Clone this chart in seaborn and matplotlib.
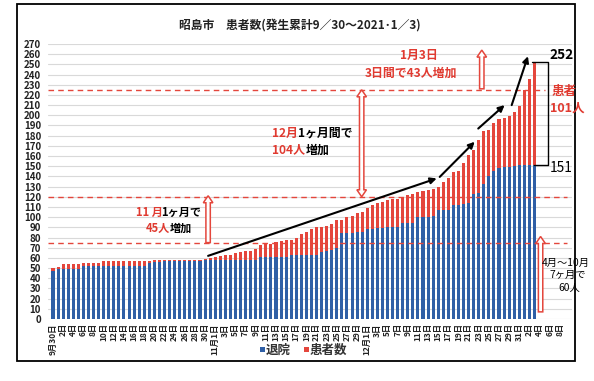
import numpy as np
import pandas as pd
import matplotlib
matplotlib.use("Agg")
import matplotlib.pyplot as plt
import seaborn as sns
from matplotlib.patches import Rectangle, Polygon

# ---------------- data ----------------
oct_total = [50, 51, 54, 54, 54, 54, 55, 55, 55, 55, 57, 57, 57, 57, 57, 57, 57, 57, 57,
             57, 58, 58, 58, 58, 58, 58, 58, 58, 58, 58, 59, 60]
nov_total = [61, 62, 63, 63, 65, 66, 67, 67, 69, 73, 74, 74, 76, 77, 78, 78, 80, 83, 85, 88,
             90, 90, 91, 93, 97, 97, 100, 101, 104, 105]
dec_total = [109, 112, 114, 115, 117, 118, 118, 120, 122, 123, 125, 126, 127, 128, 130, 135, 138,
             144, 145, 153, 161, 166, 176, 185, 186, 192, 196, 197, 199, 203, 209]
jan_total = [225, 236, 252]

oct_disch = [47, 49, 49, 49, 49, 49, 52, 52, 52, 52, 52, 52, 52, 52, 52, 52, 52, 52, 52,
             55, 56, 56, 57, 57, 57, 57, 57, 57, 57, 57, 58, 58]
nov_disch = [58, 58, 58, 58, 58, 58, 58, 58, 58, 61, 61, 61, 61, 61, 61, 63, 63, 63, 63, 63,
             63, 66, 67, 68, 70, 84, 84, 84, 85, 85]
dec_disch = [88, 88, 89, 89, 90, 90, 90, 94, 94, 94, 100, 100, 100, 101, 107, 107, 107,
             112, 112, 113, 114, 123, 124, 133, 140, 145, 148, 149, 149, 150, 151]
jan_disch = [151, 151, 151]

totals = oct_total + nov_total + dec_total + jan_total
discharged = oct_disch + nov_disch + dec_disch + jan_disch

all_dates = pd.date_range("2020-09-30", "2021-01-10")
categories = [d.strftime("%Y-%m-%d") for d in all_dates]
df = pd.DataFrame({"date": categories[:len(totals)], "total": totals, "disch": discharged})

def tick_label(d, i):
    if i == 0 or d.day == 1 and d.month in (11, 12):
        return f"{d.month}月{d.day}日"
    return f"{d.day}日"

tick_pos = list(range(0, len(categories) - 1, 2))
tick_labels = [tick_label(all_dates[i], i) for i in tick_pos]

RED = "#e4463c"
BLUE = "#2f5fa6"
TXT_RED = "#e03a30"

# ---------------- figure ----------------
sns.set_theme(style="white")
plt.rcParams['font.family'] = ['Noto Sans CJK JP', 'DejaVu Sans']
W, H = 594, 381
fig = plt.figure(figsize=(W / 100, H / 100), dpi=100)
fig.patch.set_facecolor("white")
ax = fig.add_axes([48 / W, 1 - 319 / H, (572 - 48) / W, (319 - 44) / H])

sns.barplot(data=df, x="date", y="total", order=categories, color=RED, width=0.6,
            saturation=1, errorbar=None, linewidth=0, ax=ax)
sns.barplot(data=df, x="date", y="disch", order=categories, color=BLUE, width=0.6,
            saturation=1, errorbar=None, linewidth=0, ax=ax)

ax.set_xlim(-0.99, 102.4)
ax.set_ylim(0, 270)
ax.set_yticks(range(0, 271, 10))
ax.set_yticklabels([str(v) for v in range(0, 271, 10)], fontsize=7, fontweight="bold", color="#222222")
ax.set_xticks(tick_pos)
ax.set_xticklabels(tick_labels, rotation=90, fontsize=6.0, fontweight="bold", color="#222222")
ax.tick_params(axis="x", length=0, pad=3)
ax.tick_params(axis="y", length=0, pad=5)
ax.set_xlabel("")
ax.set_ylabel("")
for s in ax.spines.values():
    s.set_visible(False)
ax.yaxis.grid(True, color="#d9d9d9", lw=0.8)
ax.set_axisbelow(True)
ax.patch.set_alpha(0)

# reference dashed lines
ax.hlines([75, 120], -0.99, 101.4, colors=RED, linestyles=(0, (4, 3)), lw=1.0, zorder=3)
ax.hlines([225], -0.99, 97.0, colors=RED, linestyles=(0, (4, 3)), lw=1.0, zorder=3)

# black trend arrows
for (x0, y0), (x1, y1) in [((30.6, 62), (75.7, 138)), ((76.3, 139.5), (83.2, 174)),
                           ((83.9, 187), (89.1, 210)), ((90.5, 210), (93.7, 258))]:
    ax.annotate("", xy=(x1, y1), xytext=(x0, y0), annotation_clip=False,
                arrowprops=dict(arrowstyle="-|>", color="black", lw=1.5,
                                mutation_scale=9, shrinkA=0, shrinkB=0), zorder=6)

# overlay in pixel coordinates
ov = fig.add_axes([0, 0, 1, 1], zorder=5)
ov.set_xlim(0, W)
ov.set_ylim(H, 0)
ov.axis("off")
ov.patch.set_alpha(0)

def px(i, v):
    dx, dy = ax.transData.transform((i, v))
    return dx, H - dy

def hollow_arrow(i, v0, v1, both=False, sw=2.2, hw=4.8, hl=7):
    x, yb = px(i, v0)
    _, yt = px(i, v1)
    pts = [(x - sw, yb), (x - sw, yt + hl), (x - hw, yt + hl), (x, yt), (x + hw, yt + hl),
           (x + sw, yt + hl), (x + sw, yb)]
    if both:
        pts = [(x - sw, yt + hl), (x - hw, yt + hl), (x, yt), (x + hw, yt + hl), (x + sw, yt + hl),
               (x + sw, yb - hl), (x + hw, yb - hl), (x, yb), (x - hw, yb - hl), (x - sw, yb - hl)]
    ov.add_patch(Polygon(pts, closed=True, fc="white", ec=RED, lw=1.1))

hollow_arrow(30.6, 75, 121)
hollow_arrow(60.9, 120, 225, both=True)
hollow_arrow(84.6, 226, 264)
hollow_arrow(96.2, 7, 81)

# bracket 252 / 151
xb0, yb0 = px(94.4, 252)
_, yb1 = px(94.4, 151)
ov.plot([xb0 + 1, 548, 548, xb0 + 3], [yb0, yb0, yb1, yb1], color="black", lw=1.0)

# frame
ov.add_patch(Rectangle((17, 4), 558, 357, fill=False, ec="black", lw=1.3))

# title
ov.text(300, 25, "昭島市　患者数(発生累計9／30～2021･1／3)", ha="center", va="center",
        fontsize=8.5, fontweight="bold", color="#222222")

B = "bold"
# annotations
ov.text(419, 55, "1月3日", ha="center", va="center", fontsize=8.6, color=TXT_RED, fontweight=B)
ov.text(411, 73, "3日間で43人増加", ha="center", va="center", fontsize=8.6, color=TXT_RED, fontweight=B)

ov.text(272, 133, "12月", ha="left", va="center", fontsize=8.6, color=TXT_RED, fontweight=B)
ov.text(298, 133, "1ヶ月間で", ha="left", va="center", fontsize=8.6, color="black", fontweight=B)
ov.text(272, 150, "104人", ha="left", va="center", fontsize=8.6, color=TXT_RED, fontweight=B)
ov.text(306, 150, "増加", ha="left", va="center", fontsize=8.6, color="black", fontweight=B)

ov.text(136, 212, "11 月", ha="left", va="center", fontsize=8.0, color=TXT_RED, fontweight=B)
ov.text(161, 212, "1ヶ月で", ha="left", va="center", fontsize=8.0, color="black", fontweight=B)
ov.text(146, 228, "45人", ha="left", va="center", fontsize=8.0, color=TXT_RED, fontweight=B)
ov.text(170, 228, "増加", ha="left", va="center", fontsize=8.0, color="black", fontweight=B)

ov.text(566, 263, "4月～10月", ha="center", va="center", fontsize=7.4, color="black")
ov.text(568, 275, "7ヶ月で", ha="center", va="center", fontsize=7.4, color="black")
ov.text(569, 288, "60人", ha="center", va="center", fontsize=7.4, color="black")

ov.text(564, 92, "患者", ha="center", va="center", fontsize=9, color=TXT_RED, fontweight=B)
ov.text(567, 108, "101人", ha="center", va="center", fontsize=9, color=TXT_RED, fontweight=B)
ov.text(562, 55, "252", ha="center", va="center", fontsize=9.8, color="black", fontweight=B)
ov.text(561, 168, "151", ha="center", va="center", fontsize=9.8, color="black")

# legend
ov.add_patch(Rectangle((260, 347), 5, 5, fc=BLUE, ec="none"))
ov.text(266, 350, "退院", ha="left", va="center", fontsize=9.0, color="#333333", fontweight=B)
ov.add_patch(Rectangle((304, 347), 5, 5, fc=RED, ec="none"))
ov.text(310, 350, "患者数", ha="left", va="center", fontsize=9.0, color="#333333", fontweight=B)

fig.savefig("out.png", dpi=100)
